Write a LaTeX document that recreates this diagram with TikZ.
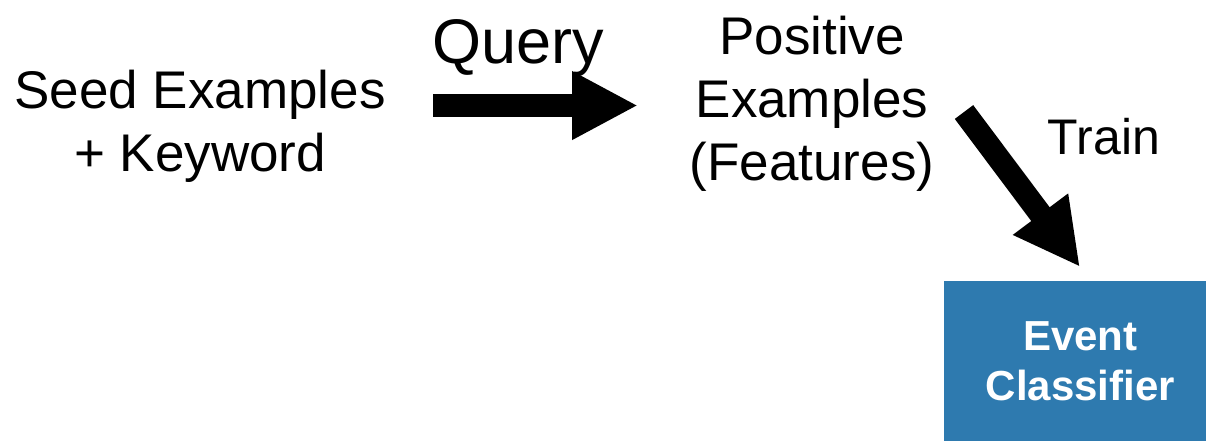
\documentclass[tikz,border=0pt]{standalone}
\usepackage{fontspec}
\setmainfont{Liberation Sans}
\usetikzlibrary{arrows.meta}
\definecolor{boxblue}{RGB}{46,122,175}
\tikzset{
  lbl/.style={inner sep=0pt, align=center, anchor=base, text=black},
  bigarrow/.style={line width=11.5pt, -{Triangle[length=33pt,width=32pt]}},
}
\begin{document}
\begin{tikzpicture}[x=0.5pt,y=-0.5pt]
\useasboundingbox (0,0) rectangle (1206,441);
% text blocks (base anchor = baseline of the last line)
\node[lbl, font=\fontsize{26.5}{31.5}\selectfont] (seed) at (200,171) {Seed Examples\\+ Keyword};
\node[lbl, font=\fontsize{31.5}{37}\selectfont] (query) at (518,63) {Query};
\node[lbl, font=\fontsize{26.5}{31.5}\selectfont] (pos) at (812,180) {Positive\\Examples\\(Features)};
\node[lbl, font=\fontsize{25}{30}\selectfont] (train) at (1104,154) {Train};
% classifier box
\node[fill=boxblue, minimum width=131pt, minimum height=80pt, inner sep=0pt,
      anchor=north west, align=center, text=white,
      font=\fontsize{21}{25}\selectfont\bfseries] (clf) at (944,281) {\hspace*{5pt}Event\\\hspace*{5pt}Classifier};
% arrow end points
\coordinate (q1) at (433,105.5);
\coordinate (q2) at (638,105.5);
\coordinate (t1) at (964,112);
\coordinate (t2) at (1080,267);
\draw[bigarrow] (q1) -- (q2);
\draw[bigarrow] (t1) -- (t2);
\end{tikzpicture}
\end{document}
